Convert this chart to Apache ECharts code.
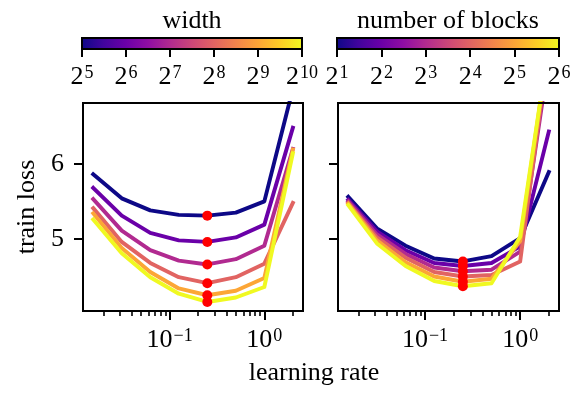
<!DOCTYPE html>
<html><head><meta charset="utf-8">
<script src="https://cdn.jsdelivr.net/npm/echarts@6/dist/echarts.min.js"></script>
<style>html,body{margin:0;padding:0;background:#fff}#c{width:576px;height:396px}</style>
</head><body><div id="c"></div>
<script>
// ---- data ----
const learningRates = [0.015625, 0.03125, 0.0625, 0.125, 0.25, 0.5, 1, 2];
const widthExponents = [5, 6, 7, 8, 9, 10];
const blockExponents = [1, 2, 3, 4, 5, 6];

const lossWidth32   = [5.86, 5.54, 5.38, 5.32, 5.31, 5.35, 5.50, 7.00];
const lossWidth64   = [5.68, 5.31, 5.08, 4.98, 4.96, 5.02, 5.19, 6.48];
const lossWidth128  = [5.53, 5.11, 4.85, 4.71, 4.66, 4.73, 4.91, 6.20];
const lossWidth256  = [5.41, 4.96, 4.68, 4.49, 4.41, 4.49, 4.67, 5.48];
const lossWidth512  = [5.34, 4.88, 4.56, 4.34, 4.25, 4.31, 4.48, 6.19];
const lossWidth1024 = [5.26, 4.81, 4.49, 4.27, 4.16, 4.22, 4.36, 6.14];

const lossBlocks2  = [5.56, 5.14, 4.91, 4.74, 4.70, 4.77, 5.01, 5.89];
const lossBlocks4  = [5.52, 5.10, 4.85, 4.68, 4.64, 4.68, 4.90, 6.43];
const lossBlocks8  = [5.50, 5.06, 4.80, 4.62, 4.57, 4.59, 4.83, 7.40];
const lossBlocks16 = [5.48, 5.02, 4.75, 4.56, 4.50, 4.52, 4.70, 7.60];
const lossBlocks32 = [5.47, 4.98, 4.69, 4.50, 4.43, 4.47, 4.97, 7.60];
const lossBlocks64 = [5.45, 4.94, 4.64, 4.44, 4.37, 4.41, 5.03, 7.60];

const xMajorTicks = [0.1, 1];
const xMinorTicks = [0.02,0.03,0.04,0.05,0.06,0.07,0.08,0.09,0.2,0.3,0.4,0.5,0.6,0.7,0.8,0.9,2];
const yTicks = [5, 6];

// plasma colormap, stops at 0, 0.1, ..., 1
const plasmaStops = ['#0d0887','#41049d','#6a00a8','#8f0da4','#b12a90','#cc4778','#e16462','#f2844b','#fca636','#fcce25','#f0f921'];

// ---- chart ----
const FONT = 'Liberation Serif';
const FS = 26;
const X_MIN = Math.pow(10, -1.914), X_MAX = Math.pow(10, 0.408);
const Y_MIN = 4.04, Y_MAX = 6.81;

const widthSeries = [lossWidth32, lossWidth64, lossWidth128, lossWidth256, lossWidth512, lossWidth1024];
const blockSeries = [lossBlocks2, lossBlocks4, lossBlocks8, lossBlocks16, lossBlocks32, lossBlocks64];
const lineColors = [0,1,2,3,4,5].map(i => plasmaStops[2 * i]);

const supRich = {
  b: {fontFamily: FONT, fontSize: 26, lineHeight: 26, color: '#000'},
  s: {fontFamily: FONT, fontSize: 18, lineHeight: 13, verticalAlign: 'top', color: '#000', padding: [0, 0, 0, 1]}
};
function powLabel(base, exp) {
  const e = String(exp).replace('-', '\u2212');
  return '{b|' + base + '}{s|' + e + '}';
}

function majorX(g) {
  return {
    type: 'log', gridIndex: g, min: X_MIN, max: X_MAX, position: 'bottom',
    axisLine: {show: false},
    axisTick: {show: true, inside: false, length: 9, lineStyle: {color: '#000', width: 2}, customValues: xMajorTicks},
    axisLabel: {show: true, customValues: xMajorTicks, margin: 16, rich: supRich,
      formatter: v => powLabel(10, Math.round(Math.log10(v)))},
    splitLine: {show: false}, minorTick: {show: false}
  };
}
function minorX(g) {
  return {
    type: 'log', gridIndex: g, min: X_MIN, max: X_MAX, position: 'bottom',
    axisLine: {show: false},
    axisTick: {show: true, inside: false, length: 5, lineStyle: {color: '#000', width: 1.6}, customValues: xMinorTicks},
    axisLabel: {show: false},
    splitLine: {show: false}, minorTick: {show: false}
  };
}
function panelY(g, showLabels) {
  return {
    type: 'value', gridIndex: g, min: Y_MIN, max: Y_MAX,
    axisLine: {show: false},
    axisTick: {show: true, inside: false, length: 9, lineStyle: {color: '#000', width: 2}, customValues: yTicks},
    axisLabel: {show: showLabels, customValues: yTicks, margin: 19, fontFamily: FONT, fontSize: FS, color: '#000'},
    splitLine: {show: false},
    name: showLabels ? 'train loss' : '', nameLocation: 'middle', nameGap: 43, nameRotate: 90,
    nameTextStyle: {fontFamily: FONT, fontSize: FS, color: '#000'}
  };
}
function cbarX(g, exps) {
  return {
    type: 'value', gridIndex: g, min: exps[0], max: exps[exps.length - 1], interval: 1, position: 'bottom',
    axisLine: {show: false},
    axisTick: {show: true, inside: false, length: 8, lineStyle: {color: '#000', width: 2}},
    axisLabel: {show: true, margin: 15, rich: supRich, formatter: v => powLabel(2, v)},
    splitLine: {show: false}
  };
}
const gradient = new echarts.graphic.LinearGradient(0, 0, 1, 0,
  plasmaStops.map((c, i) => ({offset: i / (plasmaStops.length - 1), color: c})));

const series = [];
function addPanel(list, xIdx, yIdx) {
  list.forEach((arr, i) => {
    series.push({
      type: 'line', xAxisIndex: xIdx, yAxisIndex: yIdx,
      data: learningRates.map((x, j) => [x, arr[j]]),
      showSymbol: false, symbol: 'none', clip: true, z: 2 + i * 0.01,
      lineStyle: {color: lineColors[i], width: 3.9, cap: 'square', join: 'round'},
      silent: true
    });
  });
  series.push({
    type: 'scatter', xAxisIndex: xIdx, yAxisIndex: yIdx, z: 5,
    symbolSize: 10, itemStyle: {color: '#ff0000', opacity: 1},
    data: list.map(arr => {
      let k = 0;
      arr.forEach((v, j) => { if (v < arr[k]) k = j; });
      return [learningRates[k], arr[k]];
    }),
    silent: true
  });
}
addPanel(widthSeries, 0, 0);
addPanel(blockSeries, 2, 1);

const option = {
  animation: false,
  backgroundColor: '#fff',
  grid: [
    {left: 83, top: 103, width: 220, height: 208, show: true, borderColor: '#000', borderWidth: 2, backgroundColor: 'transparent', outerBoundsMode: 'none', z: 3},
    {left: 338, top: 103, width: 221, height: 208, show: true, borderColor: '#000', borderWidth: 2, backgroundColor: 'transparent', outerBoundsMode: 'none', z: 3},
    {left: 82, top: 38, width: 220, height: 11, show: true, borderColor: '#000', borderWidth: 2, backgroundColor: gradient, outerBoundsMode: 'none'},
    {left: 337, top: 38, width: 222, height: 11, show: true, borderColor: '#000', borderWidth: 2, backgroundColor: gradient, outerBoundsMode: 'none'}
  ],
  xAxis: [majorX(0), minorX(0), majorX(1), minorX(1), cbarX(2, widthExponents), cbarX(3, blockExponents)],
  yAxis: [panelY(0, true), panelY(1, false),
    {type: 'value', gridIndex: 2, show: false, min: 0, max: 1},
    {type: 'value', gridIndex: 3, show: false, min: 0, max: 1}],
  graphic: [
    {type: 'text', x: 192, y: 21, style: {text: 'width', fontFamily: FONT, fontSize: FS, fill: '#000', align: 'center', verticalAlign: 'middle'}},
    {type: 'text', x: 448, y: 21, style: {text: 'number of blocks', fontFamily: FONT, fontSize: FS, fill: '#000', align: 'center', verticalAlign: 'middle'}},
    {type: 'text', x: 314, y: 373, style: {text: 'learning rate', fontFamily: FONT, fontSize: FS, fill: '#000', align: 'center', verticalAlign: 'middle'}}
  ],
  series: series
};
const chart = echarts.init(document.getElementById('c'), null, {renderer: 'canvas'});
chart.setOption(option);
</script>
</body></html>
